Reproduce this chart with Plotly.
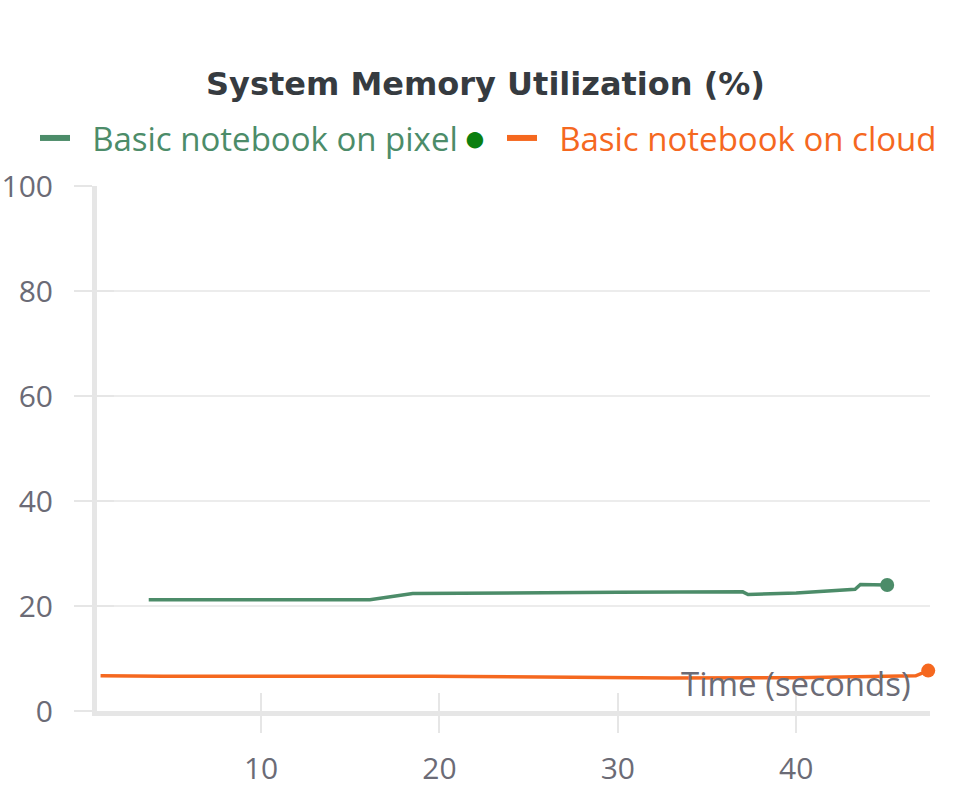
import plotly.graph_objects as go

# ---- data ----
pixel_time = [3.7, 16.1, 18.5, 22.0, 26.0, 30.0, 37.0, 37.3, 40.0, 43.3, 43.6, 44.3, 45.1]
pixel_mem = [21.2, 21.2, 22.4, 22.5, 22.6, 22.6, 22.7, 22.2, 22.5, 23.2, 24.1, 24.1, 24.0]

cloud_time = [1.0, 4.5, 19.6, 23.5, 26.5, 33.0, 40.0, 45.0, 46.7, 47.4]
cloud_mem = [6.7, 6.6, 6.6, 6.5, 6.35, 6.3, 6.35, 6.5, 6.7, 7.7]

x_ticks = [10, 20, 30, 40]
y_ticks = [0, 20, 40, 60, 80, 100]

title_text = "System Memory Utilization (%)"
pixel_name = "Basic notebook on pixel"
cloud_name = "Basic notebook on cloud"
x_title = "Time (seconds)"

# ---- style ----
GREEN = "#4c8c69"
ORANGE = "#f5681f"
AXIS = "#e6e6e6"
GRID = "#ececec"
TICKFONT = "#6b6b76"
FONT = "Open Sans"
X_RANGE = [0.8, 47.5]
Y_RANGE = [0, 100]
NB = "\u00a0\u00a0"

fig = go.Figure()

fig.add_trace(go.Scatter(x=pixel_time, y=pixel_mem, mode="lines", showlegend=False,
                         line=dict(color=GREEN, width=3.5), hoverinfo="skip"))
fig.add_trace(go.Scatter(x=cloud_time, y=cloud_mem, mode="lines", showlegend=False,
                         line=dict(color=ORANGE, width=3.5), hoverinfo="skip"))

# endpoint dots
fig.add_trace(go.Scatter(x=[pixel_time[-1]], y=[pixel_mem[-1]], mode="markers",
                         marker=dict(color=GREEN, size=14), showlegend=False,
                         cliponaxis=False, hoverinfo="skip"))
fig.add_trace(go.Scatter(x=[cloud_time[-1]], y=[cloud_mem[-1]], mode="markers",
                         marker=dict(color=ORANGE, size=14), showlegend=False,
                         cliponaxis=False, hoverinfo="skip"))

# legend-only entries (thicker legend symbols), one legend each
fig.add_trace(go.Scatter(x=[None], y=[None], mode="lines", legend="legend",
                         name=NB + "<span style='color:%s'>%s</span>" % (GREEN, pixel_name)
                         + "<span style='font-size:22px'>\u00a0</span>"
                         + "<span style='color:#0b7f10;font-size:38px'>\u25cf</span>",
                         line=dict(color=GREEN, width=6)))
fig.add_trace(go.Scatter(x=[None], y=[None], mode="lines", legend="legend2",
                         name=NB + "<span style='color:%s'>%s</span>" % (ORANGE, cloud_name),
                         line=dict(color=ORANGE, width=6)))

# dummy trace for the overlay axes (inside ticks)
fig.add_trace(go.Scatter(x=[None], y=[None], xaxis="x2", yaxis="y2",
                         showlegend=False, hoverinfo="skip"))

legend_common = dict(orientation="h", xref="container", yref="container",
                     xanchor="left", y=1 - 138 / 785, yanchor="middle",
                     font=dict(size=33, family=FONT), itemwidth=30,
                     bgcolor="rgba(0,0,0,0)")

fig.update_layout(
    width=971, height=785,
    margin=dict(l=97, r=41, t=186, b=74, autoexpand=False),
    paper_bgcolor="white", plot_bgcolor="white",
    font=dict(family=FONT, color=TICKFONT),
    title=dict(text="<b>" + title_text + "</b>", x=0.5, xref="container",
               y=1 - 84 / 785, yref="container", yanchor="middle",
               font=dict(size=32, color="#363b40", family="DejaVu Sans")),
    showlegend=True,
    legend=dict(x=35 / 971, **legend_common),
    legend2=dict(x=502 / 971, **legend_common),
    xaxis=dict(range=X_RANGE, tickvals=x_ticks, ticktext=[str(v) for v in x_ticks],
               showgrid=False, zeroline=False, showline=True, linecolor=AXIS,
               linewidth=5, ticks="outside", ticklen=17, tickwidth=2,
               tickcolor=AXIS, tickfont=dict(size=30, color=TICKFONT),
               ticklabelstandoff=10, automargin=False),
    yaxis=dict(range=Y_RANGE, tickvals=y_ticks, ticktext=[str(v) for v in y_ticks],
               showgrid=True, gridcolor=GRID, gridwidth=1.5, zeroline=False,
               showline=True, linecolor=AXIS, linewidth=5, ticks="outside",
               ticklen=18, tickwidth=2, tickcolor=AXIS,
               tickfont=dict(size=30, color=TICKFONT), ticklabelstandoff=15,
               automargin=False),
    xaxis2=dict(range=X_RANGE, overlaying="x", anchor="y2", side="bottom",
                tickvals=x_ticks, showticklabels=False, showgrid=False,
                zeroline=False, showline=False, ticks="inside", ticklen=18,
                tickwidth=2, tickcolor=AXIS, automargin=False),
    yaxis2=dict(range=Y_RANGE, overlaying="y", anchor="x2", side="left",
                tickvals=y_ticks, showticklabels=False, showgrid=False,
                zeroline=False, showline=False, ticks="inside", ticklen=17,
                tickwidth=2, tickcolor=AXIS, automargin=False),
    annotations=[dict(text=x_title, xref="paper", yref="paper",
                      x=(913 - 97) / 833, xanchor="right",
                      y=(711 - 683) / 525, yanchor="middle", showarrow=False,
                      font=dict(size=33, color=TICKFONT, family=FONT))],
)

fig.write_html("out.html", config={"displayModeBar": False},
               post_script="document.body.style.margin='0';document.body.style.overflow='hidden';")
